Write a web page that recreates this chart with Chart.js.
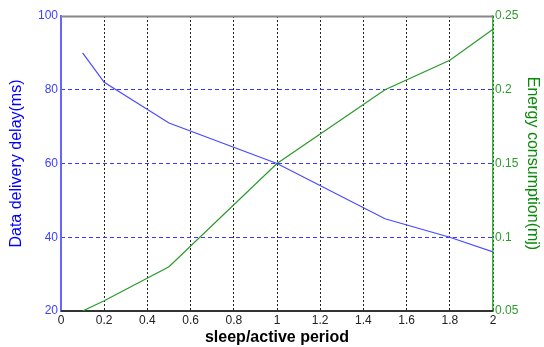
<!DOCTYPE html>
<html><head><meta charset="utf-8">
<script src="https://cdn.jsdelivr.net/npm/chart.js@4/dist/chart.umd.min.js"></script>
<style>html,body{margin:0;padding:0;background:#fff}#wrap{width:544px;height:347px}</style>
</head><body><div id="wrap"><canvas id="c"></canvas></div>
<script>
const periods = [0.1, 0.2, 0.5, 1.0, 1.5, 1.8, 2.0];
const delayMs = [90, 82, 71, 60, 45, 40, 36];
const energyMj = [0.05, 0.057, 0.08, 0.15, 0.2, 0.22, 0.241];
const xTickValues = [0, 0.2, 0.4, 0.6, 0.8, 1, 1.2, 1.4, 1.6, 1.8, 2];
const xTickLabels = ['0','0.2','0.4','0.6','0.8','1','1.2','1.4','1.6','1.8','2'];
const delayTicks = [20, 40, 60, 80, 100];
const energyTicks = [0.05, 0.1, 0.15, 0.2, 0.25];
const energyTickLabels = ['0.05','0.1','0.15','0.2','0.25'];

const FONT = 'Liberation Sans, Arial, sans-serif';
const GREEN = '#2e9a2e';

const frame = {
  id: 'frame',
  beforeDatasetsDraw(chart) {
    const {ctx, chartArea: a} = chart;
    ctx.save();
    ctx.strokeStyle = '#888';
    ctx.lineWidth = 2;
    ctx.beginPath(); ctx.moveTo(a.left, a.top + 0.5); ctx.lineTo(a.right, a.top + 0.5); ctx.stroke();
    ctx.strokeStyle = '#333';
    ctx.beginPath(); ctx.moveTo(a.left, a.bottom); ctx.lineTo(a.right, a.bottom); ctx.stroke();
    ctx.restore();
  }
};

new Chart(document.getElementById('c'), {
  type: 'line',
  data: {
    datasets: [
      { label: 'delay', data: periods.map((p,i)=>({x:p,y:delayMs[i]})), yAxisID: 'y',
        borderColor: '#4a4aff', borderWidth: 1.2, pointRadius: 0, tension: 0, fill: false },
      { label: 'energy', data: periods.map((p,i)=>({x:p,y:energyMj[i]})), yAxisID: 'y1',
        borderColor: '#2a9a2a', borderWidth: 1.2, pointRadius: 0, tension: 0, fill: false }
    ]
  },
  options: {
    responsive: true, maintainAspectRatio: false, animation: false,
    layout: { padding: { top: 16, left: 7, right: 2, bottom: 0 } },
    plugins: { legend: { display: false }, tooltip: { enabled: false } },
    scales: {
      x: {
        type: 'linear', min: 0, max: 2,
        afterBuildTicks: s => { s.ticks = xTickValues.map(v => ({value: v})); },
        ticks: { color: '#222', font: { family: FONT, size: 12 }, padding: 2,
          callback: (v, i) => xTickLabels[i] },
        grid: { drawTicks: false, lineWidth: 1, color: '#222' },
        border: { color: '#333', width: 1.5, dash: [2, 2] },
        title: { display: true, text: 'sleep/active period', color: '#000',
          font: { family: FONT, size: 16, weight: 'bold' }, padding: { top: 1, bottom: 0 } },
        afterFit: s => { s.height = 36; }
      },
      y: {
        type: 'linear', position: 'left', min: 20, max: 100,
        afterBuildTicks: s => { s.ticks = delayTicks.map(v => ({value: v})); },
        ticks: { color: '#4040ff', font: { family: FONT, size: 12 }, padding: 3 },
        grid: { display: false, drawTicks: false },
        border: { color: '#6666ff', width: 2 },
        title: { display: true, text: 'Data delivery delay(ms)', color: '#0000ff',
          font: { family: FONT, size: 16 }, padding: { top: 0, bottom: 4 } },
        afterFit: s => { s.width = 54; }
      },
      y1: {
        type: 'linear', position: 'right', min: 0.05, max: 0.25,
        afterBuildTicks: s => { s.ticks = energyTicks.map(v => ({value: v})); },
        ticks: { color: GREEN, font: { family: FONT, size: 12 }, padding: 2,
          callback: (v, i) => energyTickLabels[i] },
        grid: { display: true, drawTicks: false, drawOnChartArea: true, color: '#3a3aff', lineWidth: 1 },
        border: { color: '#3cb83c', width: 1.5, dash: [4, 3] },
        title: { display: true, text: 'Energy consumption(mj)', color: '#0a8a0a',
          font: { family: FONT, size: 16 }, padding: { top: 0, bottom: 0 } },
        afterFit: s => { s.width = 49; }
      }
    }
  },
  plugins: [frame]
});
</script>
</body></html>
